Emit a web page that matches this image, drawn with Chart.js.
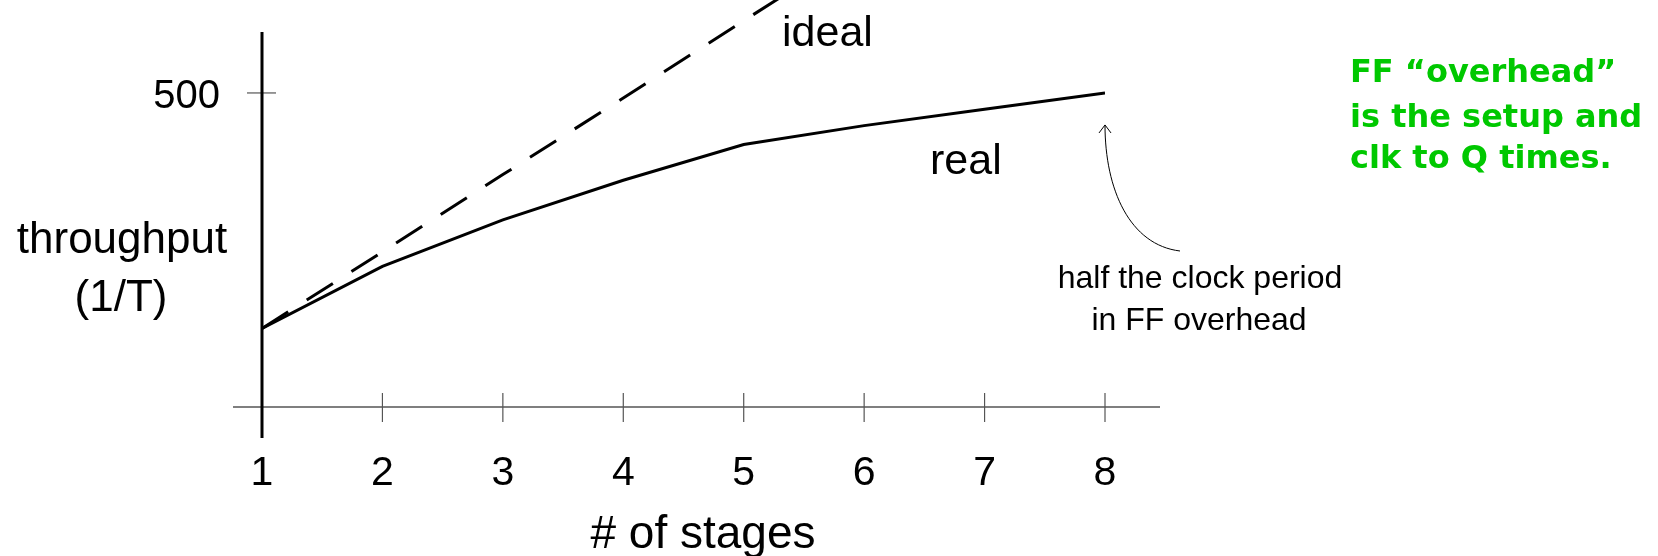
<!DOCTYPE html>
<html>
<head>
<meta charset="utf-8">
<style>
  html, body { margin: 0; padding: 0; background: #fff; }
</style>
</head>
<body>
<canvas id="chart" width="1658" height="556"></canvas>
<script src="https://cdn.jsdelivr.net/npm/chart.js@4/dist/chart.umd.min.js"></script>
<script>
// values
const stages = [1, 2, 3, 4, 5, 6, 7, 8];
const realThroughput = [125, 224, 298, 361, 418, 448, 474, 500];
const idealStages = [1, 2, 3, 4, 5, 6];
const idealThroughput = [125, 247, 370, 492, 615, 737];
const xTickLabels = ['1', '2', '3', '4', '5', '6', '7', '8'];
const yTickValues = [500];
const yTickLabels = ['500'];

const FONT = '"Liberation Sans", Arial, sans-serif';

// hand-drawn style axes + slide annotations
const slideAxes = {
  id: 'slideAxes',
  beforeDatasetsDraw(chart) {
    const { ctx, scales: { x, y } } = chart;
    const x0 = x.getPixelForValue(stages[0]);
    const y0 = y.getPixelForValue(0);
    ctx.save();
    // x axis
    ctx.strokeStyle = '#555';
    ctx.lineWidth = 1.5;
    ctx.beginPath();
    ctx.moveTo(x0 - 29, y0);
    ctx.lineTo(x.getPixelForValue(8) + 55, y0);
    ctx.stroke();
    ctx.lineWidth = 1.2;
    stages.forEach(s => {
      const px = x.getPixelForValue(s);
      ctx.beginPath();
      ctx.moveTo(px, y0 - 14);
      ctx.lineTo(px, y0 + 15);
      ctx.stroke();
    });
    yTickValues.forEach(v => {
      const py = y.getPixelForValue(v);
      ctx.beginPath();
      ctx.moveTo(x0 - 15, py);
      ctx.lineTo(x0 + 14, py);
      ctx.stroke();
    });
    // y axis
    ctx.strokeStyle = '#000';
    ctx.lineWidth = 3;
    ctx.beginPath();
    ctx.moveTo(x0, 32);
    ctx.lineTo(x0, y0 + 31);
    ctx.stroke();
    ctx.restore();
  },
  afterDraw(chart) {
    const { ctx, scales: { x, y } } = chart;
    const x0 = x.getPixelForValue(stages[0]);
    const y0 = y.getPixelForValue(0);
    ctx.save();
    ctx.fillStyle = '#000';
    ctx.textBaseline = 'alphabetic';

    // tick labels
    ctx.font = '41px ' + FONT;
    ctx.textAlign = 'center';
    stages.forEach((s, i) => ctx.fillText(xTickLabels[i], x.getPixelForValue(s), y0 + 78));
    ctx.font = '40px ' + FONT;
    ctx.textAlign = 'right';
    yTickValues.forEach((v, i) => ctx.fillText(yTickLabels[i], x0 - 42, y.getPixelForValue(v) + 15));

    // axis titles
    ctx.textAlign = 'center';
    ctx.font = '46px ' + FONT;
    ctx.fillText('# of stages', 703, 548);
    ctx.font = '44px ' + FONT;
    ctx.fillText('throughput', 122, 253);
    ctx.fillText('(1/T)', 121, 311);

    // series labels
    ctx.textAlign = 'left';
    ctx.font = '43px ' + FONT;
    ctx.fillText('ideal', 782, 46);
    ctx.fillText('real', 930, 174);

    // annotation with arrow to the end of the real curve
    const tipX = x.getPixelForValue(8);
    const tipY = y.getPixelForValue(500) + 32;
    ctx.strokeStyle = '#000';
    ctx.lineWidth = 1;
    ctx.beginPath();
    ctx.moveTo(1180, 251);
    ctx.bezierCurveTo(1130, 245, tipX, 190, tipX, tipY);
    ctx.moveTo(tipX - 6, tipY + 8);
    ctx.lineTo(tipX, tipY);
    ctx.lineTo(tipX + 6, tipY + 8);
    ctx.stroke();
    ctx.textAlign = 'center';
    ctx.font = '32px ' + FONT;
    ctx.fillText('half the clock period', 1200, 288);
    ctx.fillText('in FF overhead', 1199, 330);

    // green side note
    ctx.textAlign = 'left';
    ctx.fillStyle = '#00c800';
    ctx.font = 'bold 32px "Comic Sans MS", "DejaVu Sans", sans-serif';
    ctx.fillText('FF \u201coverhead\u201d', 1350, 82);
    ctx.fillText('is the setup and', 1350, 127);
    ctx.fillText('clk to Q times.', 1350, 168);
    ctx.restore();
  }
};

new Chart(document.getElementById('chart'), {
  type: 'line',
  data: {
    datasets: [
      {
        label: 'real',
        data: stages.map((s, i) => ({ x: s, y: realThroughput[i] })),
        borderColor: '#000',
        borderWidth: 3,
        pointRadius: 0,
        tension: 0
      },
      {
        label: 'ideal',
        data: idealStages.map((s, i) => ({ x: s, y: idealThroughput[i] })),
        borderColor: '#000',
        borderWidth: 3,
        borderDash: [31, 22],
        pointRadius: 0,
        tension: 0
      }
    ]
  },
  options: {
    responsive: false,
    animation: false,
    layout: { padding: { left: 262, right: 553, top: 0, bottom: 149 } },
    plugins: { legend: { display: false }, tooltip: { enabled: false } },
    scales: {
      x: { type: 'linear', min: 1, max: 8, display: false },
      y: { min: 0, max: 648, display: false }
    }
  },
  plugins: [slideAxes]
});
</script>
</body>
</html>
